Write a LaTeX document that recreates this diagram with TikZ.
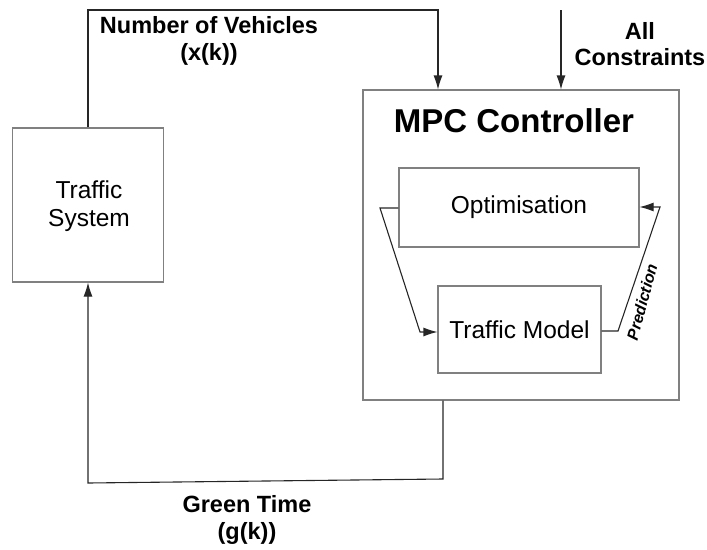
\documentclass[tikz,border=0pt]{standalone}
\usepackage{fontspec}
\setmainfont{Liberation Sans}
\usetikzlibrary{arrows.meta}
\begin{document}
\begin{tikzpicture}[x=1pt,y=-1pt,
  box/.style={draw=black!50, line width=1.1pt, inner sep=0pt},
  conn/.style={draw=black!85, line width=1.1pt},
  arr/.style={conn, -{Latex[length=14pt,width=9pt]}},
  reg/.style={font=\fontsize{24.5}{28}\selectfont, align=center, inner sep=0pt},
  lbl/.style={font=\fontsize{23.5}{26.5}\selectfont\bfseries, align=center, inner sep=0pt}]
\useasboundingbox (0,0) rectangle (707,549);
% boxes
\node[box, minimum width=151pt, minimum height=154pt] (ts) at (88,205) {};
\node[reg] (tstext) at (89,206) {Traffic\\System};
\node[box, minimum width=316pt, minimum height=310pt] (mpc) at (521,245) {};
\node[font=\fontsize{33}{36}\selectfont\bfseries, anchor=base, inner sep=0pt] (title) at (514,132) {MPC Controller};
\node[box, reg, minimum width=240pt, minimum height=79pt] (opt) at (519,207.5) {Optimisation};
\node[box, reg, minimum width=163pt, minimum height=87pt] (tm) at (519.5,329.5) {Traffic Model};
% labels
\node[lbl] (nv) at (209,41) {Number of Vehicles\\(x(k))};
\node[lbl] (ac) at (640,44) {All\\Constraints};
\node[lbl] (gt) at (247,520) {Green Time\\(g(k))};
\node[font=\fontsize{16}{18}\selectfont\bfseries\itshape, rotate=75, inner sep=0pt] (pred) at (642,302) {Prediction};
% coordinates
\coordinate (t1) at (88,10);
\coordinate (t2) at (438,10);
\coordinate (c0) at (561,10);
\coordinate (b1) at (443,479);
\coordinate (b2) at (88,483);
\coordinate (l1) at (380,208);
\coordinate (l2) at (420,332);
\coordinate (r1) at (618,331);
\coordinate (r2) at (660,207);
% connectors
\draw[arr] (ts.north) -- (t1) -- (t2) -- (t2 |- mpc.north);
\draw[arr] (c0) -- (c0 |- mpc.north);
\draw[arr] (b1 |- mpc.south) -- (b1) -- (b2) -- (ts.south);
\draw[arr] (opt.west |- l1) -- (l1) -- (l2) -- (tm.west |- l2);
\draw[arr] (tm.east |- r1) -- (r1) -- (r2) -- (opt.east |- r2);
\end{tikzpicture}
\end{document}
